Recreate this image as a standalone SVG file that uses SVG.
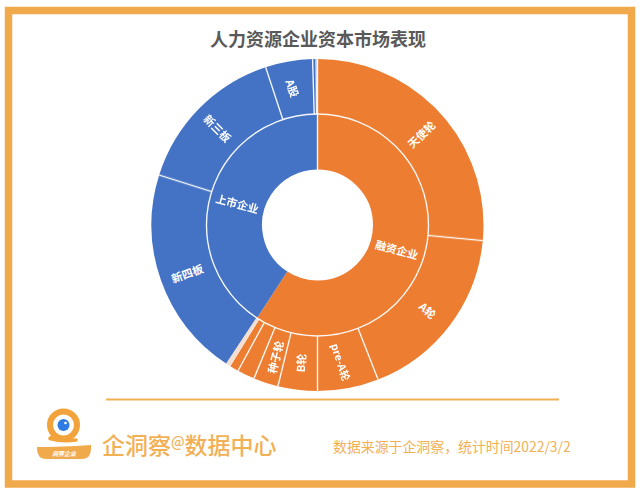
<svg xmlns="http://www.w3.org/2000/svg" width="640" height="494" viewBox="0 0 640 494">
<style>
text{font-family:"Noto Sans CJK SC","Liberation Sans",sans-serif}
.o{fill:none;stroke:#ED7D31}
.b{fill:none;stroke:#4472C4}
.p{fill:none;stroke:#F3DFD2}
.outer{stroke-width:55}
.inner{stroke-width:55.5}
.l{fill:#fff;font-size:11px;font-weight:700;text-anchor:middle;dominant-baseline:central}
.sep{stroke:#fff;stroke-width:1.400;opacity:.9}
.f{fill:#F2B054}
</style>
<rect width="640" height="494" fill="#fff"/>
<rect x="8.500" y="10.500" width="623" height="473.500" fill="none" stroke="#F0A94B" stroke-width="7.500"/>
<text x="318" y="46" text-anchor="middle" font-size="18" font-weight="700" fill="#595959">人力资源企业资本市场表现</text>

<g id="seg-rongzi"><circle class="o inner" cx="317.500" cy="225" r="83.250" pathLength="360" stroke-dasharray="213 360" transform="rotate(-90 317.500 225)"/></g>
<g id="seg-shangshi"><circle class="b inner" cx="317.500" cy="225" r="83.250" pathLength="360" stroke-dasharray="147 360" transform="rotate(123 317.500 225)"/></g>
<g id="seg-tianshi"><circle class="o outer" cx="317.500" cy="225" r="138.500" pathLength="360" stroke-dasharray="95.400 360" transform="rotate(-90 317.500 225)"/></g>
<g id="seg-a"><circle class="o outer" cx="317.500" cy="225" r="138.500" pathLength="360" stroke-dasharray="63.200 360" transform="rotate(5.400 317.500 225)"/></g>
<g id="seg-prea"><circle class="o outer" cx="317.500" cy="225" r="138.500" pathLength="360" stroke-dasharray="21.400 360" transform="rotate(68.600 317.500 225)"/></g>
<g id="seg-b"><circle class="o outer" cx="317.500" cy="225" r="138.500" pathLength="360" stroke-dasharray="13.800 360" transform="rotate(90 317.500 225)"/></g>
<g id="seg-zhongzi"><circle class="o outer" cx="317.500" cy="225" r="138.500" pathLength="360" stroke-dasharray="8.700 360" transform="rotate(103.800 317.500 225)"/></g>
<g id="seg-x1"><circle class="o outer" cx="317.500" cy="225" r="138.500" pathLength="360" stroke-dasharray="6.100 360" transform="rotate(112.500 317.500 225)"/></g>
<g id="seg-x2"><circle class="o outer" cx="317.500" cy="225" r="138.500" pathLength="360" stroke-dasharray="3.100 360" transform="rotate(118.600 317.500 225)"/></g>
<g id="seg-x3"><circle class="p outer" cx="317.500" cy="225" r="138.500" pathLength="360" stroke-dasharray="1.700 360" transform="rotate(121.700 317.500 225)"/></g>
<g id="seg-xinsi"><circle class="b outer" cx="317.500" cy="225" r="138.500" pathLength="360" stroke-dasharray="74.100 360" transform="rotate(123.400 317.500 225)"/></g>
<g id="seg-xinsan"><circle class="b outer" cx="317.500" cy="225" r="138.500" pathLength="360" stroke-dasharray="54.300 360" transform="rotate(197.500 317.500 225)"/></g>
<g id="seg-ag"><circle class="b outer" cx="317.500" cy="225" r="138.500" pathLength="360" stroke-dasharray="16.500 360" transform="rotate(251.800 317.500 225)"/></g>
<g id="seg-y"><circle class="b outer" cx="317.500" cy="225" r="138.500" pathLength="360" stroke-dasharray="1.700 360" transform="rotate(268.300 317.500 225)"/></g>

<g id="connectors">
<circle cx="317.500" cy="225" r="111" fill="none" stroke="#fff" stroke-width="1.400" opacity=".9"/>
<g class="sep">
<line x1="317.500" y1="170" x2="317.500" y2="59"/>
<line x1="317.500" y1="114" x2="317.500" y2="59" transform="rotate(95.400 317.500 225)"/>
<line x1="317.500" y1="114" x2="317.500" y2="59" transform="rotate(158.600 317.500 225)"/>
<line x1="317.500" y1="114" x2="317.500" y2="59" transform="rotate(180 317.500 225)"/>
<line x1="317.500" y1="114" x2="317.500" y2="59" transform="rotate(193.800 317.500 225)"/>
<line x1="317.500" y1="114" x2="317.500" y2="59" transform="rotate(202.500 317.500 225)"/>
<line x1="317.500" y1="114" x2="317.500" y2="59" transform="rotate(208.600 317.500 225)"/>
<line x1="317.500" y1="114" x2="317.500" y2="59" transform="rotate(287.500 317.500 225)"/>
<line x1="317.500" y1="114" x2="317.500" y2="59" transform="rotate(341.800 317.500 225)"/>
<line x1="317.500" y1="114" x2="317.500" y2="59" transform="rotate(358.300 317.500 225)"/>
<line x1="317.500" y1="114" x2="317.500" y2="59" transform="rotate(359.500 317.500 225)"/>
</g>
</g>

<g id="labels">
<text class="l" transform="translate(421 134) rotate(-44)">天使轮</text>
<text class="l" transform="translate(397 249) rotate(15)">融资企业</text>
<text class="l" transform="translate(428 310) rotate(42)">A轮</text>
<text class="l" style="font-size:10.500px" transform="translate(341 362) rotate(72)">pre-A轮</text>
<text class="l" transform="translate(300.500 363) rotate(-86)">B轮</text>
<text class="l" transform="translate(275 357) rotate(-76)">种子轮</text>
<text class="l" transform="translate(293 88) rotate(70)">A股</text>
<text class="l" transform="translate(218 128) rotate(45)">新三板</text>
<text class="l" transform="translate(187 273) rotate(-20)">新四板</text>
<text class="l" transform="translate(237.500 203) rotate(15)">上市企业</text>
</g>

<line x1="106" y1="399.500" x2="559" y2="399.500" stroke="#F2B054" stroke-width="1.800"/>

<g id="logo">
<circle cx="63.500" cy="425" r="13.500" fill="none" stroke="#F2A33C" stroke-width="6"/>
<circle cx="63.500" cy="425" r="6" fill="#2F7BE5"/>
<circle cx="65.500" cy="423" r="1.300" fill="#fff"/>
<path d="M50 438.500L55 435M50 438.500Q62 442 76 440" fill="none" stroke="#F2A33C" stroke-width="3.500" stroke-linecap="round"/>
<path d="M37 447Q62 447 91 445V449Q91 459 81 459H47Q37 459 37 449Z" fill="#F0A94B"/>
<text x="64" y="456" text-anchor="middle" font-size="6" font-style="italic" font-weight="700" fill="#fff">洞察企业</text>
</g>

<g id="footer">
<text class="f" x="102" y="454" font-size="23" font-weight="500">企洞察<tspan font-size="14" dy="-7">@</tspan><tspan dy="7">数据中心</tspan></text>
<text class="f" x="333" y="452" font-size="13.900">数据来源于企洞察，统计时间2022/3/2</text>
</g>
</svg>
